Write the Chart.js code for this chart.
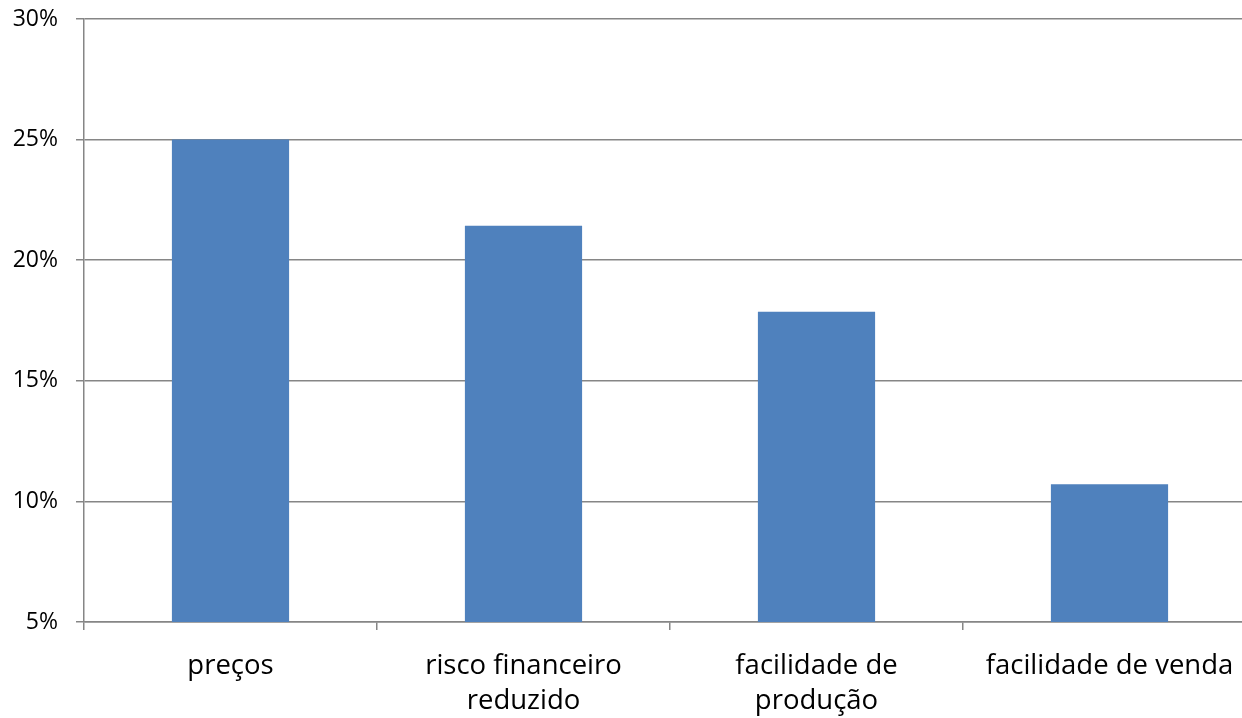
<!DOCTYPE html>
<html>
<head>
<meta charset="utf-8">
<script src="https://cdn.jsdelivr.net/npm/chart.js@4"></script>
<style>
  html, body { margin: 0; padding: 0; background: #fff; overflow: hidden; }
  #wrap { width: 1256px; height: 718px; }
</style>
</head>
<body>
<div id="wrap"><canvas id="chart"></canvas></div>
<script>
// categorias e valores (%)
const categories = [
  ['preços'],
  ['risco financeiro', 'reduzido'],
  ['facilidade de', 'produção'],
  ['facilidade de venda']
];
const values = [25, 21.43, 17.86, 10.71];
const yTicks = [5, 10, 15, 20, 25, 30];

const gridColor = '#868686';

new Chart(document.getElementById('chart'), {
  type: 'bar',
  data: {
    labels: categories,
    datasets: [{
      data: values,
      backgroundColor: '#4F81BD',
      borderWidth: 0,
      barPercentage: 0.4,
      categoryPercentage: 1
    }]
  },
  options: {
    responsive: true,
    maintainAspectRatio: false,
    animation: false,
    layout: { padding: { top: 19, left: 0, right: 0, bottom: 0 } },
    plugins: {
      legend: { display: false },
      tooltip: { enabled: false }
    },
    scales: {
      x: {
        grid: {
          display: true,
          offset: true,
          drawOnChartArea: false,
          drawTicks: true,
          tickLength: 8,
          color: gridColor,
          lineWidth: 1.5
        },
        border: { display: true, color: gridColor, width: 1.5 },
        ticks: {
          color: '#000',
          padding: 18,
          maxRotation: 0,
          autoSkip: false,
          font: { family: 'Open Sans', size: 27.5, lineHeight: 1.3 }
        },
        afterFit: (scale) => { scale.height = 96; }
      },
      y: {
        min: yTicks[0],
        max: yTicks[yTicks.length - 1],
        afterBuildTicks: (scale) => {
          scale.ticks = yTicks.map(v => ({ value: v }));
        },
        grid: {
          color: gridColor,
          lineWidth: 1.5,
          tickLength: 8
        },
        border: { display: true, color: gridColor, width: 1.5 },
        ticks: {
          color: '#000',
          padding: 18,
          font: { family: 'Open Sans', size: 23 },
          callback: (v) => v + '%'
        },
        afterFit: (scale) => {
          scale.width = 84;
          // labels may overhang the plot edges
          scale.paddingTop = 0;
          scale.paddingBottom = 0;
        }
      }
    }
  }
});
</script>
</body>
</html>
